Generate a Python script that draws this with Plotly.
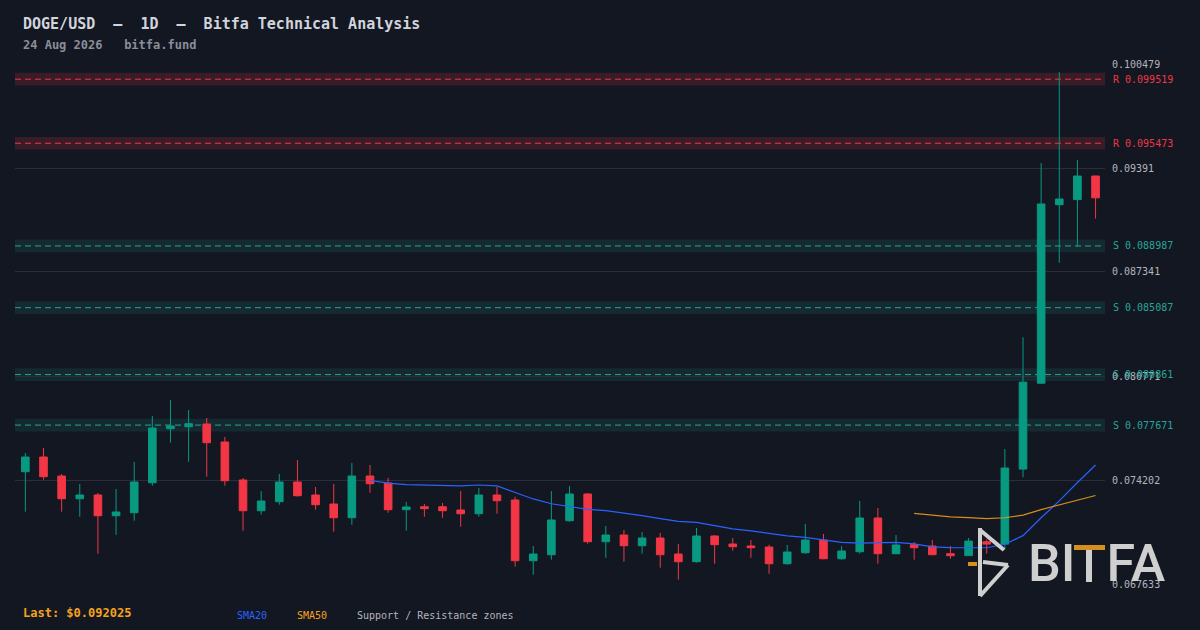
import pandas as pd
import plotly.graph_objects as go

# DOGE/USD daily candles, 60 sessions up to 24 Aug 2026
dates = pd.date_range(end="2026-08-24", periods=60, freq="D")

opens = [0.074726, 0.075654, 0.074454, 0.073020, 0.073254, 0.071946, 0.072136, 0.074031, 0.077442, 0.077568,
         0.077739, 0.076602, 0.074202, 0.072262, 0.072831, 0.074075, 0.073254, 0.072686, 0.071820, 0.074454,
         0.074012, 0.072326, 0.072515, 0.072515, 0.072307, 0.072073, 0.073254, 0.072938, 0.069104, 0.069483,
         0.071631, 0.073318, 0.070305, 0.070727, 0.070051, 0.070538, 0.069527, 0.069041, 0.070664, 0.070159,
         0.070033, 0.069969, 0.068914, 0.069609, 0.070411, 0.069230, 0.069672, 0.071801, 0.069546, 0.070115,
         0.070033, 0.069546, 0.069426, 0.070305, 0.070152, 0.074890, 0.080316, 0.091591, 0.091914, 0.093404]
highs = [0.075907, 0.076223, 0.074581, 0.073949, 0.073380, 0.073633, 0.075339, 0.078244, 0.079255, 0.078623,
         0.078118, 0.076918, 0.074328, 0.073507, 0.074581, 0.075465, 0.073759, 0.073949, 0.075275, 0.075149,
         0.074328, 0.072812, 0.072686, 0.072749, 0.073507, 0.073696, 0.073759, 0.073147, 0.070033, 0.073507,
         0.073823, 0.073380, 0.071296, 0.071043, 0.070917, 0.070854, 0.070159, 0.071170, 0.070727, 0.070538,
         0.070411, 0.070115, 0.070096, 0.071422, 0.070791, 0.070033, 0.072875, 0.072433, 0.070727, 0.070285,
         0.070411, 0.070033, 0.070538, 0.070449, 0.076153, 0.083222, 0.094219, 0.099961, 0.094409, 0.093420]
lows = [0.072199, 0.074220, 0.072199, 0.071883, 0.069546, 0.070746, 0.071631, 0.073841, 0.076558, 0.075357,
        0.074410, 0.073841, 0.070999, 0.072010, 0.072641, 0.073159, 0.072326, 0.070936, 0.071378, 0.073399,
        0.072136, 0.070999, 0.071883, 0.071820, 0.071251, 0.071883, 0.072073, 0.068725, 0.068219, 0.069167,
        0.071568, 0.070178, 0.069293, 0.069041, 0.069546, 0.068662, 0.067904, 0.068990, 0.068914, 0.069736,
        0.069293, 0.068284, 0.068851, 0.069546, 0.069199, 0.069167, 0.069546, 0.068914, 0.069515, 0.069167,
        0.069451, 0.069230, 0.069401, 0.069552, 0.069811, 0.074378, 0.080297, 0.087921, 0.088945, 0.090713]
closes = [0.075654, 0.074410, 0.073020, 0.073254, 0.071946, 0.072180, 0.074075, 0.077486, 0.077613, 0.077758,
          0.076558, 0.074157, 0.072262, 0.072875, 0.074075, 0.073210, 0.072641, 0.071820, 0.074454, 0.073968,
          0.072326, 0.072496, 0.072389, 0.072262, 0.072073, 0.073254, 0.072894, 0.069104, 0.069527, 0.071675,
          0.073318, 0.070305, 0.070727, 0.070051, 0.070538, 0.069483, 0.069041, 0.070664, 0.070115, 0.069989,
          0.069925, 0.068914, 0.069653, 0.070411, 0.069230, 0.069717, 0.071801, 0.069546, 0.070096, 0.069925,
          0.069483, 0.069420, 0.070342, 0.070152, 0.074960, 0.080379, 0.091636, 0.091951, 0.093404, 0.092025]

resistance = [0.099519, 0.095473]
support = [0.088987, 0.085087, 0.080861, 0.077671]
zone_half = 0.0004

tick_vals = [0.100479, 0.093910, 0.087341, 0.080771, 0.074202, 0.067633]

BG = "#131722"
GREEN = "#089981"
RED = "#f23645"
TEAL = "#26a69a"
BLUE = "#2962ff"
ORANGE = "#f5a21e"
LOGO_ORANGE = "#d58f1c"
MONO = "DejaVu Sans Mono"

sma20 = pd.Series(closes).rolling(20).mean()
sma50 = pd.Series(closes).rolling(50).mean()


# pixel -> paper helpers (plot area is x 15..1105, y 64..584)
def px(x):
    return (x - 15) / 1090


def py(y):
    return (584 - y) / 520


fig = go.Figure()

fig.add_trace(go.Candlestick(
    x=dates, open=opens, high=highs, low=lows, close=closes,
    increasing=dict(line=dict(color=GREEN, width=1), fillcolor=GREEN),
    decreasing=dict(line=dict(color=RED, width=1), fillcolor=RED),
    whiskerwidth=0, showlegend=False,
))
fig.add_trace(go.Scatter(x=dates, y=sma20, mode="lines",
                         line=dict(color=BLUE, width=1.2), showlegend=False))
fig.add_trace(go.Scatter(x=dates, y=sma50, mode="lines",
                         line=dict(color=ORANGE, width=1.2), opacity=0.85, showlegend=False))

# support / resistance zones
zones = [(lvl, "R", RED, "rgba(242,54,69,0.17)") for lvl in resistance] + \
        [(lvl, "S", TEAL, "rgba(38,166,154,0.13)") for lvl in support]
for lvl, tag, col, fill in zones:
    fig.add_shape(type="rect", xref="paper", x0=0, x1=1, yref="y",
                  y0=lvl - zone_half, y1=lvl + zone_half,
                  fillcolor=fill, line_width=0, layer="below")
    fig.add_shape(type="line", xref="paper", x0=0, x1=1, yref="y", y0=lvl, y1=lvl,
                  line=dict(color=col, width=1, dash="6px,4px"), layer="below")
    fig.add_annotation(xref="paper", x=1, xshift=6, xanchor="left", yref="y", y=lvl,
                       text=f"{tag} {lvl:.6f}", showarrow=False,
                       font=dict(family=MONO, size=10, color=col))

# header
fig.add_annotation(xref="paper", yref="paper", x=px(21), y=py(24), xanchor="left", yanchor="middle",
                   text="<b>DOGE/USD  —  1D  —  Bitfa Technical Analysis</b>", showarrow=False,
                   font=dict(family=MONO, size=15, color="#d1d4dc"))
fig.add_annotation(xref="paper", yref="paper", x=px(21), y=py(45), xanchor="left", yanchor="middle",
                   text="<b>24 Aug 2026   bitfa.fund</b>", showarrow=False,
                   font=dict(family=MONO, size=12, color="#8a8e99"))

# footer
fig.add_annotation(xref="paper", yref="paper", x=px(21), y=py(613), xanchor="left", yanchor="middle",
                   text=f"<b>Last: ${closes[-1]:.6f}</b>", showarrow=False,
                   font=dict(family=MONO, size=12, color=ORANGE))
for x0, label, col in [(235, "SMA20", BLUE), (295, "SMA50", ORANGE),
                       (355, "Support / Resistance zones", "#b2b5be")]:
    fig.add_annotation(xref="paper", yref="paper", x=px(x0), y=py(615), xanchor="left", yanchor="middle",
                       text=label, showarrow=False, font=dict(family=MONO, size=10, color=col))

# BITFA watermark: the T is drawn as shapes so its bar can be orange
logo_grey = "#cfcfcf"
fig.add_annotation(xref="paper", yref="paper", x=px(1097), y=py(563), xanchor="center", yanchor="middle",
                   text="BI<span style='color:rgba(0,0,0,0)'>T</span>FA", showarrow=False,
                   font=dict(family="Roboto", size=52, color=logo_grey, weight=500))
fig.add_shape(type="rect", xref="paper", yref="paper", x0=px(1086), x1=px(1092), y0=py(582), y1=py(549),
              fillcolor=logo_grey, line_width=0)
fig.add_shape(type="rect", xref="paper", yref="paper", x0=px(1074), x1=px(1105), y0=py(550), y1=py(545),
              fillcolor=LOGO_ORANGE, line_width=0)
for (x0, y0, x1, y1) in [(980, 528, 980, 596), (980, 530, 1004, 550),
                         (983, 562, 1008, 565), (1008, 565, 980, 596)]:
    fig.add_shape(type="line", xref="paper", yref="paper", x0=px(x0), y0=py(y0), x1=px(x1), y1=py(y1),
                  line=dict(color=logo_grey, width=4))
fig.add_shape(type="rect", xref="paper", yref="paper", x0=px(968), x1=px(977), y0=py(566), y1=py(562),
              fillcolor=LOGO_ORANGE, line_width=0)

fig.update_layout(
    width=1200, height=630,
    margin=dict(l=15, r=95, t=64, b=46),
    paper_bgcolor=BG, plot_bgcolor=BG,
    boxgap=0.4,
    showlegend=False,
    xaxis=dict(
        visible=False, rangeslider=dict(visible=False),
        range=[dates[0] - pd.Timedelta(hours=13.7), dates[-1] + pd.Timedelta(hours=12.5)],
    ),
    yaxis=dict(
        side="right", range=[tick_vals[-1], tick_vals[0]],
        tickvals=tick_vals, ticktext=[f"{v:.6f}".rstrip("0") for v in tick_vals],
        showgrid=True, gridcolor="#2a2e39", gridwidth=1, zeroline=False,
        ticks="", ticklabelstandoff=6,
        tickfont=dict(family=MONO, size=10, color="#b2b5be"),
    ),
)

fig.write_html("out.html", config={"displayModeBar": False},
               post_script="document.body.style.margin='0px';")
